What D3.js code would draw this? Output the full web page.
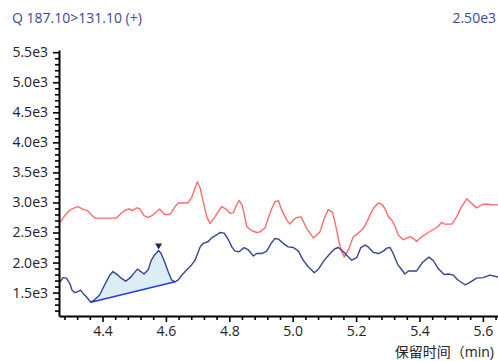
<!DOCTYPE html>
<html><head><meta charset="utf-8">
<script src="https://cdn.jsdelivr.net/npm/d3@7"></script>
<style>html,body{margin:0;padding:0;background:#fff;}svg{display:block;font-family:"Open Sans",sans-serif;}</style>
</head><body><svg id="c" width="498" height="361"></svg>
<script>
const title = "Q 187.10>131.10 (+)";
const scaleLabel = "2.50e3";
const xTitle = "保留时间（min)";
const xTickValues = [4.4, 4.6, 4.8, 5.0, 5.2, 5.4, 5.6];
const xTickLabels = ["4.4", "4.6", "4.8", "5.0", "5.2", "5.4", "5.6"];
const yTickValues = [1500, 2000, 2500, 3000, 3500, 4000, 4500, 5000, 5500];
const yTickLabels = ["1.5e3", "2.0e3", "2.5e3", "3.0e3", "3.5e3", "4.0e3", "4.5e3", "5.0e3", "5.5e3"];

const blueTime = [4.264,4.268,4.275,4.286,4.297,4.304,4.312,4.320,4.331,4.338,4.349,4.363,4.375,4.391,4.407,4.423,4.433,4.449,4.459,4.473,4.486,4.499,4.510,4.521,4.531,4.544,4.554,4.565,4.577,4.585,4.596,4.607,4.618,4.629,4.639,4.650,4.666,4.681,4.692,4.708,4.718,4.734,4.744,4.760,4.771,4.784,4.797,4.808,4.818,4.831,4.847,4.860,4.876,4.886,4.902,4.918,4.932,4.944,4.955,4.970,4.986,5.002,5.018,5.033,5.049,5.068,5.081,5.100,5.118,5.133,5.144,5.160,5.174,5.186,5.202,5.215,5.228,5.238,5.254,5.270,5.286,5.297,5.307,5.317,5.331,5.344,5.354,5.365,5.391,5.409,5.430,5.444,5.459,5.478,5.491,5.507,5.521,5.544,5.559,5.580,5.601,5.622,5.648];
const blueIntensity = [1680,1690,1750,1740,1650,1540,1500,1510,1540,1490,1430,1340,1380,1460,1630,1790,1850,1790,1740,1690,1740,1820,1890,1850,1810,1880,2040,2130,2200,2150,2010,1850,1710,1680,1710,1790,1880,1960,2040,2260,2320,2350,2410,2460,2500,2490,2380,2260,2190,2180,2250,2210,2110,2150,2150,2190,2320,2400,2390,2320,2260,2250,2190,2040,1930,1830,1890,2040,2150,2230,2250,2180,2100,2040,2080,2250,2290,2260,2170,2150,2190,2240,2250,2150,1970,1880,1810,1860,1860,2000,2090,2030,1900,1800,1810,1790,1710,1630,1670,1740,1750,1790,1760];

const redTime = [4.262,4.268,4.281,4.291,4.302,4.323,4.338,4.354,4.365,4.377,4.444,4.459,4.475,4.486,4.493,4.507,4.517,4.531,4.544,4.559,4.580,4.596,4.613,4.629,4.639,4.669,4.681,4.692,4.699,4.708,4.718,4.729,4.739,4.755,4.765,4.776,4.792,4.802,4.813,4.823,4.831,4.841,4.855,4.868,4.886,4.897,4.913,4.923,4.934,4.944,4.955,4.965,4.981,4.991,5.002,5.013,5.026,5.044,5.065,5.086,5.100,5.112,5.125,5.133,5.144,5.152,5.163,5.178,5.191,5.207,5.223,5.237,5.254,5.270,5.281,5.291,5.302,5.312,5.323,5.333,5.349,5.370,5.381,5.391,5.407,5.428,5.444,5.459,5.470,5.480,5.502,5.517,5.533,5.549,5.559,5.580,5.601,5.617,5.628,5.648];
const redIntensity = [2650,2680,2780,2840,2890,2930,2890,2860,2790,2740,2740,2820,2880,2890,2860,2910,2900,2780,2750,2790,2890,2800,2800,2930,2990,2990,3080,3240,3340,3240,3010,2760,2650,2760,2850,2930,2880,2820,2830,2960,3030,2950,2600,2540,2500,2510,2580,2740,2900,3010,3030,2880,2710,2640,2710,2750,2760,2570,2410,2510,2740,2880,2840,2680,2400,2210,2090,2240,2430,2490,2570,2710,2900,2990,2970,2900,2760,2710,2600,2460,2380,2430,2400,2350,2430,2500,2550,2600,2670,2640,2640,2760,2930,3060,3010,2910,2970,2970,2960,2960];

const peakStart = 4.363, peakEnd = 4.629, peakApex = 4.577;

const svg = d3.select("#c");
const W = 498, H = 361;
const axisX = 59, axisY = 316, axisTop = 50;

const x = d3.scaleLinear().domain([4.4, 5.6]).range([102.5, 482.9]);
const y = d3.scaleLinear().domain([1500, 5500]).range([292.6, 52.2]);

const xAx = x.copy().domain([x.invert(axisX), x.invert(W)]).range([axisX, W]);
const yAx = y.copy().domain([y.invert(axisY), y.invert(axisTop)]).range([axisY, axisTop]);

svg.append("defs").append("clipPath").attr("id","clip")
  .append("rect").attr("x", axisX).attr("y", 0).attr("width", W - axisX).attr("height", axisY);

const plot = svg.append("g").attr("clip-path","url(#clip)");

const blueData = blueTime.map((t,i)=>({t, v: blueIntensity[i]}));
const redData = redTime.map((t,i)=>({t, v: redIntensity[i]}));

const bStartV = blueData.find(d=>d.t===peakStart).v;
const bEndV = blueData.find(d=>d.t===peakEnd).v;
const baseAt = t => bStartV + (bEndV - bStartV) * (t - peakStart) / (peakEnd - peakStart);
const peakData = blueData.filter(d => d.t >= peakStart && d.t <= peakEnd);

plot.append("path").datum(peakData)
  .attr("fill", "#dcedf4").attr("stroke", "none")
  .attr("d", d3.area().x(d=>x(d.t)).y0(d=>y(baseAt(d.t))).y1(d=>y(d.v)));

const line = d3.line().x(d=>x(d.t)).y(d=>y(d.v));
plot.append("path").datum(redData).attr("fill","none").attr("stroke","#ff6b6b").attr("stroke-width",1.4).attr("stroke-linejoin","round").attr("d", line);
plot.append("path").datum(blueData).attr("fill","none").attr("stroke","#34468e").attr("stroke-width",1.4).attr("stroke-linejoin","round").attr("d", line);

plot.append("line")
  .attr("x1", x(peakStart)).attr("y1", y(bStartV))
  .attr("x2", x(peakEnd)).attr("y2", y(bEndV))
  .attr("stroke", "#1f3ce8").attr("stroke-width", 1.5);

const apexV = blueData.find(d=>d.t===peakApex).v;
const ax = x(peakApex), ay = y(apexV) - 1;
svg.append("path").attr("d", `M${ax-3.5},${ay-6}L${ax+3.5},${ay-6}L${ax},${ay}Z`).attr("fill","#1e2a5e");

// Axes
const minorX = d3.range(4.28, 5.66, 0.04).map(v=>+v.toFixed(2)).filter(v => !xTickValues.some(m=>Math.abs(m-v)<1e-6));
const minorY = d3.range(1200, 5501, 100).filter(v => v % 500 !== 0);

const gx = svg.append("g").attr("transform", `translate(0,${axisY})`);
gx.call(d3.axisBottom(xAx).tickValues(xTickValues).tickSize(6).tickSizeOuter(0).tickPadding(4).tickFormat((d,i)=>xTickLabels[i]));
const gxm = svg.append("g").attr("transform", `translate(0,${axisY})`);
gxm.call(d3.axisBottom(xAx).tickValues(minorX).tickSize(4).tickSizeOuter(0).tickFormat(""));
gxm.select(".domain").remove();

const gy = svg.append("g").attr("transform", `translate(${axisX},0)`);
gy.call(d3.axisLeft(yAx).tickValues(yTickValues).tickSize(6).tickSizeOuter(0).tickPadding(5).tickFormat((d,i)=>yTickLabels[i]));
const gym = svg.append("g").attr("transform", `translate(${axisX},0)`);
gym.call(d3.axisLeft(yAx).tickValues(minorY).tickSize(4).tickSizeOuter(0).tickFormat(""));
gym.select(".domain").remove();

svg.selectAll(".domain").attr("stroke","#000").attr("stroke-width",2);
svg.selectAll(".tick line").attr("stroke","#000").attr("stroke-width",1.6);
svg.selectAll(".tick text").attr("fill","#222").style("font-size","14px").style("font-family","'Open Sans',sans-serif");

svg.append("text").attr("x", 12).attr("y", 23).attr("fill","#3a4a96").style("font-size","14px").text(title);
svg.append("text").attr("x", 496).attr("y", 23).attr("text-anchor","end").attr("fill","#3a4a96").style("font-size","14px").text(scaleLabel);
svg.append("text").attr("x", 494).attr("y", 357).attr("text-anchor","end").attr("fill","#222")
  .style("font-size","14px").style("font-family","'Open Sans','Noto Sans CJK SC',sans-serif").text(xTitle);
</script></body></html>
